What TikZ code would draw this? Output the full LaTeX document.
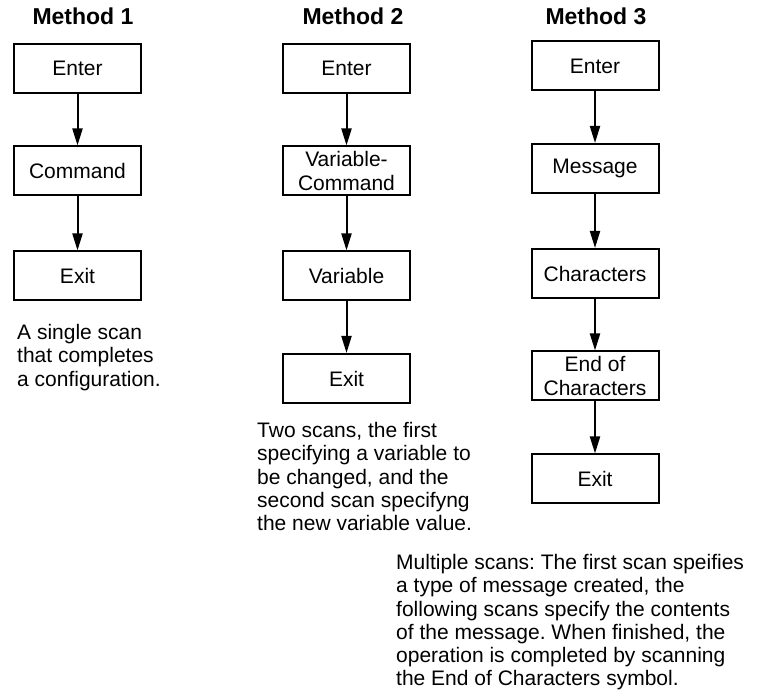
\documentclass[tikz,border=0pt]{standalone}
\usepackage{fontspec}
\setmainfont{Liberation Sans}
\usetikzlibrary{arrows.meta}
\frenchspacing

\tikzset{
  stepbox/.style={draw, line width=2pt, minimum width=127pt, minimum height=49pt,
    inner sep=0pt, align=center, font=\fontsize{21}{23.3}\selectfont},
  flow/.style={line width=2pt, -{Triangle[width=10pt,length=17pt]}},
  methodtitle/.style={anchor=base, font=\fontsize{23}{26}\selectfont\bfseries},
  scannote/.style={anchor=north west, inner sep=0pt, align=left,
    font=\fontsize{21}{23.3}\selectfont}
}

\begin{document}
\begin{tikzpicture}[x=1pt,y=1pt]
    \useasboundingbox (0,0) rectangle (760,691);

    % draw titles
    \node[methodtitle] (t1) at (83,666) {Method 1};
    \node[methodtitle] (t2) at (353,666) {Method 2};
    \node[methodtitle] (t3) at (596,666) {Method 3};

    % draw method 1 boxes
    \node[stepbox] (e1) at (77.5,622.5) {Enter};
    \node[stepbox] (c1) at (77.5,520) {Command};
    \node[stepbox] (x1) at (77.5,415) {Exit};

    % draw method 2 boxes
    \node[stepbox] (e2) at (346.5,622.5) {Enter};
    \node[stepbox] (vc2) at (346.5,520) {Variable-\\Command};
    \node[stepbox] (v2) at (346.5,415) {Variable};
    \node[stepbox] (x2) at (346.5,312.5) {Exit};

    % draw method 3 boxes
    \node[stepbox] (e3) at (595,625) {Enter};
    \node[stepbox] (m3) at (595,522.5) {Message};
    \node[stepbox] (ch3) at (595,417.5) {Characters};
    \node[stepbox] (ec3) at (595,315) {End of\\Characters};
    \node[stepbox] (x3) at (595,212) {Exit};

    % draw arrows
    \foreach \a/\b in {e1/c1, c1/x1, e2/vc2, vc2/v2, v2/x2, e3/m3, m3/ch3, ch3/ec3, ec3/x3}
    \draw[flow] (\a) -- (\b);

    % draw notes
    \node[scannote] (n1) at (17,367) {A single scan\\that completes\\a configuration.};
    \node[scannote] (n2) at (257,269) {Two scans, the first\\specifying a variable to\\be changed, and the\\second scan specifyng\\the new variable value.};
    \node[scannote] (n3) at (396,137) {Multiple scans: The first scan speifies\\a type of message created, the\\following scans specify the contents\\of the message. When finished, the\\operation is completed by scanning\\the End of Characters symbol.};
\end{tikzpicture}
\end{document}
